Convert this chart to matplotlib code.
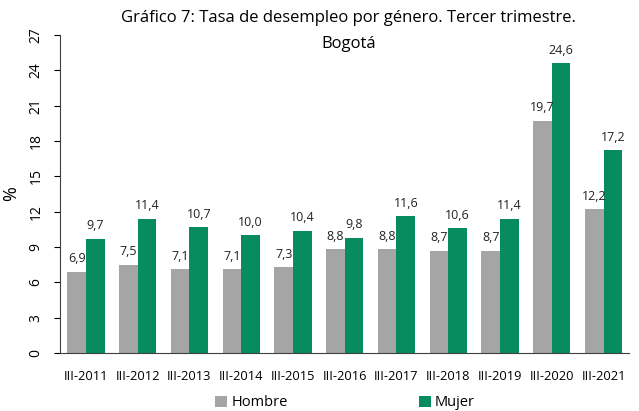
import matplotlib.pyplot as plt
import numpy as np

categorias = ['III-2011', 'III-2012', 'III-2013', 'III-2014', 'III-2015', 'III-2016',
              'III-2017', 'III-2018', 'III-2019', 'III-2020', 'III-2021']
hombre = [6.9, 7.5, 7.1, 7.1, 7.3, 8.8, 8.8, 8.7, 8.7, 19.7, 12.2]
mujer = [9.7, 11.4, 10.7, 10.0, 10.4, 9.8, 11.6, 10.6, 11.4, 24.6, 17.2]

plt.rcParams['font.family'] = ['Open Sans', 'DejaVu Sans']

fig = plt.figure(figsize=(6.39, 4.11), dpi=100)
ax = fig.add_axes([0.094, 0.141, 0.891, 0.774])

x = np.arange(len(categorias))
w = 0.36
b1 = ax.bar(x - w / 2, hombre, w, color='#A5A5A5', label='Hombre')
b2 = ax.bar(x + w / 2, mujer, w, color='#078C5F', label='Mujer')

for rects, vals in ((b1, hombre), (b2, mujer)):
    for r, v in zip(rects, vals):
        ax.text(r.get_x() + r.get_width() / 2, v + 0.55, ('%.1f' % v).replace('.', ','),
                ha='center', va='bottom', fontsize=9, color='#222222')

ax.set_xlim(-0.5, len(categorias) - 0.5)
ax.set_ylim(0, 27)
ax.set_yticks(range(0, 28, 3))
ax.set_xticks(x)
ax.set_xticklabels(categorias, fontsize=9.3)
ax.tick_params(axis='x', length=0, pad=12)
ax.tick_params(axis='y', labelsize=10, labelrotation=90, length=4, pad=8)
for lbl in ax.get_yticklabels():
    lbl.set_va('center')
ax.spines['top'].set_visible(False)
ax.spines['right'].set_visible(False)
ax.spines['left'].set_color('#404040')
ax.spines['bottom'].set_color('#404040')
ax.set_ylabel('%', fontsize=13, labelpad=6)

fig.text(0.545, 0.955, 'Gráfico 7: Tasa de desempleo por género. Tercer trimestre.',
         ha='center', va='center', fontsize=12)
fig.text(0.545, 0.893, 'Bogotá', ha='center', va='center', fontsize=12)

fig.legend(loc='lower center', bbox_to_anchor=(0.54, -0.03), ncol=2, frameon=False,
           fontsize=10.5, handlelength=0.8, handleheight=0.8, handletextpad=0.3,
           columnspacing=9)

fig.savefig('out.png', dpi=100)
